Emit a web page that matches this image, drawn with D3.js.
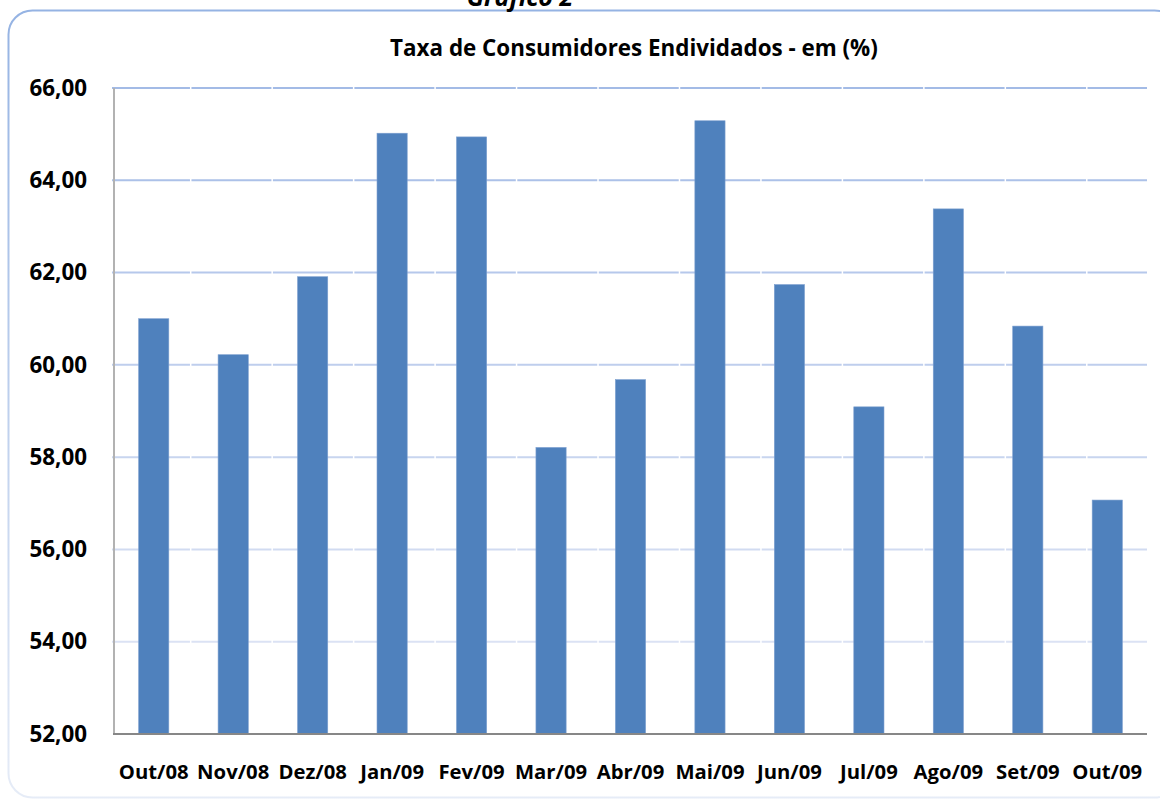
<!DOCTYPE html>
<html>
<head>
<meta charset="utf-8">
<script src="https://cdn.jsdelivr.net/npm/d3@7"></script>
<style>
  html, body { margin: 0; padding: 0; background: #fff; }
  svg { display: block; }
</style>
</head>
<body>
<div id="chart"></div>
<script>
// Data
const categories = ["Out/08", "Nov/08", "Dez/08", "Jan/09", "Fev/09", "Mar/09", "Abr/09",
    "Mai/09", "Jun/09", "Jul/09", "Ago/09", "Set/09", "Out/09"];
const values = [61.00, 60.22, 61.91, 65.02, 64.94, 58.21, 59.68, 65.29, 61.74, 59.09, 63.38, 60.84, 57.07];
const yTicks = [52, 54, 56, 58, 60, 62, 64, 66];
const chartTitle = "Taxa de Consumidores Endividados - em (%)";
const captionText = "Gráfico 2";

const width = 1160, height = 801;
const margin = { top: 88, right: 13, bottom: 67, left: 114 };
const FONT = "'Open Sans', 'DejaVu Sans', sans-serif";

const svg = d3.select("#chart").append("svg")
    .attr("width", width)
    .attr("height", height);

const defs = svg.append("defs");
const borderGrad = defs.append("linearGradient")
    .attr("id", "border-grad")
    .attr("x1", 0).attr("y1", 0).attr("x2", 0).attr("y2", 1);
borderGrad.append("stop").attr("offset", "0%").attr("stop-color", "#95b3e3");
borderGrad.append("stop").attr("offset", "100%").attr("stop-color", "#e6ecf7");

// Rounded chart frame (runs off the right edge as in the reference)
svg.append("rect")
    .attr("x", 8.5).attr("y", 10.5)
    .attr("width", 1170).attr("height", 787)
    .attr("rx", 24).attr("ry", 24)
    .attr("fill", "none")
    .attr("stroke", "url(#border-grad)")
    .attr("stroke-width", 2);

// Caption sitting above the frame, mostly cropped in the reference
svg.append("text")
    .attr("x", 520).attr("y", 6)
    .attr("text-anchor", "middle")
    .attr("font-family", FONT)
    .attr("font-size", "25px")
    .attr("font-weight", "bold")
    .attr("font-style", "italic")
    .attr("fill", "#000")
    .text(captionText);

svg.append("text")
    .attr("x", 634).attr("y", 56)
    .attr("text-anchor", "middle")
    .attr("font-family", FONT)
    .attr("font-size", "22.4px")
    .attr("font-weight", "bold")
    .attr("fill", "#000")
    .text(chartTitle);

const plotBottom = 734;

const x = d3.scaleBand()
    .domain(categories)
    .range([margin.left, width - margin.right])
    .paddingInner(0.62)
    .paddingOuter(0.31);

const y = d3.scaleLinear()
    .domain([52, 66])
    .range([plotBottom, margin.top]);

const band = (width - margin.right - margin.left) / categories.length;
const gridColor = d3.scaleLinear()
    .domain([66, 52])
    .range(["#a3bbe6", "#e4e8f6"]);

// Horizontal gridlines, broken at each category boundary
const grid = svg.append("g").attr("class", "grid");
grid.selectAll("line")
    .data(yTicks.filter(t => t > 52))
    .enter().append("line")
    .attr("x1", margin.left - 2)
    .attr("x2", width - margin.right)
    .attr("y1", d => y(d))
    .attr("y2", d => y(d))
    .attr("stroke", d => gridColor(d))
    .attr("stroke-width", 2)
    .attr("stroke-dasharray", `${band + 0.5} 1.5`)
    .attr("stroke-dashoffset", 2);

// Bars
svg.append("g").selectAll("rect")
    .data(values)
    .enter().append("rect")
    .attr("x", (d, i) => x(categories[i]))
    .attr("y", d => y(d))
    .attr("width", x.bandwidth())
    .attr("height", d => plotBottom - y(d))
    .attr("fill", "#4f81bd")
    .attr("stroke", "#7c9fcf")
    .attr("stroke-width", 0.6);

// Axis lines
svg.append("line")
    .attr("x1", margin.left).attr("x2", margin.left)
    .attr("y1", margin.top).attr("y2", plotBottom)
    .attr("stroke", "#b2b2b2").attr("stroke-width", 2);
svg.append("line")
    .attr("x1", margin.left - 1).attr("x2", width - margin.right)
    .attr("y1", plotBottom).attr("y2", plotBottom)
    .attr("stroke", "#878787").attr("stroke-width", 2);

// Y axis labels
const yAxis = d3.axisLeft(y)
    .tickValues(yTicks)
    .tickSize(0)
    .tickPadding(0)
    .tickFormat(d => d3.format(".2f")(d).replace(".", ","));
const gy = svg.append("g")
    .attr("transform", `translate(${margin.left - 27},0)`)
    .call(yAxis);
gy.select(".domain").remove();
gy.selectAll("text")
    .attr("font-family", FONT)
    .attr("font-size", "22.4px")
    .attr("font-weight", "bold")
    .attr("fill", "#000");

// X axis labels
const xAxis = d3.axisBottom(x).tickSize(0).tickPadding(0);
const gx = svg.append("g")
    .attr("transform", `translate(0,${plotBottom + 31})`)
    .call(xAxis);
gx.select(".domain").remove();
gx.selectAll("text")
    .attr("font-family", FONT)
    .attr("font-size", "20.3px")
    .attr("font-weight", "bold")
    .attr("fill", "#000");
</script>
</body>
</html>
